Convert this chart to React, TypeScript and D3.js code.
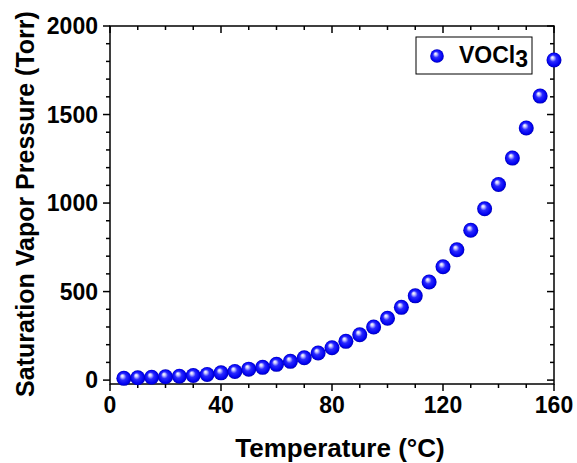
import React from "react";
import * as d3 from "d3";

const temps = [5,10,15,20,25,30,35,40,45,50,55,60,65,70,75,80,85,90,95,100,105,110,115,120,125,130,135,140,145,150,155,160];
const pressures = [10,13,16,19,22,26,32,41,49,62,72,89,106,126,153,183,219,256,300,349,411,476,554,640,736,846,968,1105,1254,1424,1604,1808];
const xMajorTicks = [0,40,80,120,160];
const yMajorTicks = [0,500,1000,1500,2000];
const seriesName = "VOCl";
const seriesSub = "3";

const W = 577, H = 463;
const left = 110, right = 554, top = 26, bottom = 384;

export default function App() {
  const x = d3.scaleLinear().domain([0, 160]).range([left, right]);
  const y = d3.scaleLinear().domain([-22, 2000]).range([bottom, top]);
  const xMinor = d3.range(0, 161, 10);
  const yMinor = d3.range(0, 2001, 100);
  const font = "Arial, 'Liberation Sans', sans-serif";
  const ax = "#000";
  return (
    <svg width={W} height={H} style={{ position: "absolute", left: 0, top: 0 }} fontFamily={font}>
      <defs>
        <radialGradient id="ball" cx="0.5" cy="0.5" r="0.5" fx="0.38" fy="0.32">
          <stop offset="0" stopColor="#ffffff" />
          <stop offset="0.18" stopColor="#c8c8ff" />
          <stop offset="0.45" stopColor="#2a2aff" />
          <stop offset="0.85" stopColor="#0000f0" />
          <stop offset="1" stopColor="#0000b0" />
        </radialGradient>
      </defs>
      <rect x={0} y={0} width={W} height={H} fill="#fff" />
      <rect x={left} y={top} width={right - left} height={bottom - top} fill="none" stroke={ax} strokeWidth={1.5} />
      {xMinor.map((t) => {
        const major = t % 40 === 0;
        const len = major ? 7 : 4;
        return (
          <g key={"xt" + t}>
            <line x1={x(t)} x2={x(t)} y1={bottom} y2={bottom + len} stroke={ax} strokeWidth={1.5} />
            <line x1={x(t)} x2={x(t)} y1={top} y2={top + len} stroke={ax} strokeWidth={1.5} />
          </g>
        );
      })}
      {yMinor.map((t) => {
        const major = t % 500 === 0;
        const len = major ? 7 : 4;
        return (
          <g key={"yt" + t}>
            <line x1={left} x2={left - len} y1={y(t)} y2={y(t)} stroke={ax} strokeWidth={1.5} />
            <line x1={right} x2={right - len} y1={y(t)} y2={y(t)} stroke={ax} strokeWidth={1.5} />
          </g>
        );
      })}
      {xMajorTicks.map((t) => (
        <text key={"xl" + t} x={x(t)} y={413} textAnchor="middle" fontSize={23} fontWeight="bold">{t}</text>
      ))}
      {yMajorTicks.map((t) => (
        <text key={"yl" + t} x={98} y={y(t)} dy="0.35em" textAnchor="end" fontSize={23} fontWeight="bold">{t}</text>
      ))}
      <text x={340} y={457} textAnchor="middle" fontSize={26} fontWeight="bold">Temperature (°C)</text>
      <text transform={`translate(34,204) rotate(-90)`} textAnchor="middle" fontSize={25} fontWeight="bold">Saturation Vapor Pressure (Torr)</text>
      {temps.map((t, i) => (
        <circle key={"p" + i} cx={x(t)} cy={y(pressures[i])} r={7.5} fill="url(#ball)" />
      ))}
      <rect x={416} y={37} width={116} height={37} fill="#fff" stroke={ax} strokeWidth={1} />
      <circle cx={437} cy={56} r={6.8} fill="url(#ball)" />
      <text x={459} y={63} fontSize={23} fontWeight="bold">{seriesName}<tspan dy={4}>{seriesSub}</tspan></text>
    </svg>
  );
}
